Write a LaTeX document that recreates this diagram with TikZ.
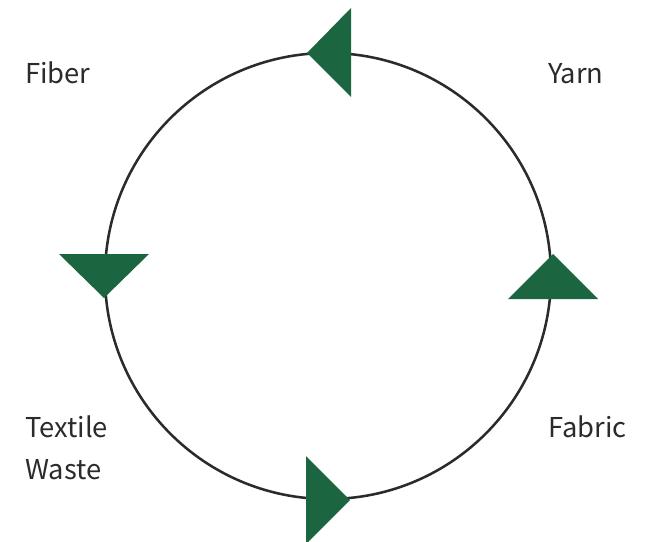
\documentclass[tikz,border=0pt]{standalone}
\usepackage{fontspec}
\setmainfont{Noto Sans CJK JP}
\definecolor{leaf}{HTML}{1B6540}
\definecolor{ink}{HTML}{2B2B2B}
\tikzset{stage/.style={inner sep=0pt, anchor=base west, align=left, text=ink, font=\fontsize{20.5}{31.5}\selectfont}}
\begin{document}
\begin{tikzpicture}[x=0.75pt, y=-0.75pt]
\useasboundingbox (0,0) rectangle (646,542);
\draw [line width=1.9pt, ink] (328,276) circle [radius=223];
\fill [leaf] (307,53) -- (351,8) -- (351,97) -- cycle;
\fill [leaf] (553,254) -- (508,299) -- (598,299) -- cycle;
\fill [leaf] (350,500) -- (306,456) -- (306,544) -- cycle;
\fill [leaf] (104,298) -- (59,254) -- (149,254) -- cycle;
\node [stage] (fiber) at (25,84) {Fiber};
\node [stage] (yarn) at (548,84) {Yarn};
\node [stage] (fabric) at (548,437) {Fabric};
\node [stage] (waste) at (25,479) {Textile\\Waste};
\end{tikzpicture}
\end{document}
